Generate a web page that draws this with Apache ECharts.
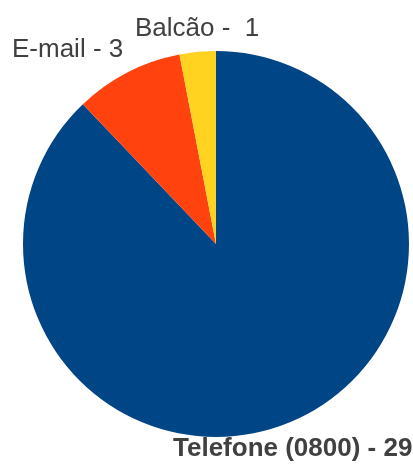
<!DOCTYPE html>
<html>
<head>
<meta charset="utf-8">
<script src="https://cdn.jsdelivr.net/npm/echarts@6/dist/echarts.min.js"></script>
<style>
  html, body { margin: 0; padding: 0; background: #ffffff; }
  #chart { width: 413px; height: 464px; }
</style>
</head>
<body>
<div id="chart"></div>
<script>
// Service channels and number of contacts per channel
const categories = ['Telefone (0800)', 'E-mail', 'Balcão'];
const values = [29, 3, 1];
const separators = [' - ', ' - ', ' -  '];
const colors = ['#004586', '#ff420e', '#ffd320'];

// Fixed label anchors (x, y, align, bold) for each slice
const labelSpots = [
  { x: 173, y: 449, align: 'left', bold: true },
  { x: 12, y: 50, align: 'left', bold: false },
  { x: 135, y: 29, align: 'left', bold: false }
];

const chart = echarts.init(document.getElementById('chart'), null, { renderer: 'canvas' });

chart.setOption({
  animation: false,
  backgroundColor: '#ffffff',
  series: [{
    type: 'pie',
    center: [216, 244],
    radius: [0, 193],
    startAngle: 90,
    clockwise: true,
    avoidLabelOverlap: false,
    emphasis: { disabled: true },
    itemStyle: { borderWidth: 0 },
    labelLine: { show: false },
    label: {
      show: true,
      position: 'outside',
      color: '#404040',
      fontFamily: 'Liberation Sans, Arial, sans-serif',
      fontSize: 26,
      formatter: p => p.name + separators[p.dataIndex] + p.value
    },
    labelLayout: p => {
      const s = labelSpots[p.dataIndex];
      return { x: s.x, y: s.y, align: s.align, verticalAlign: 'middle' };
    },
    data: categories.map((name, i) => ({
      name: name,
      value: values[i],
      itemStyle: { color: colors[i] },
      label: { fontWeight: labelSpots[i].bold ? 'bold' : 'normal' }
    }))
  }]
});
</script>
</body>
</html>
